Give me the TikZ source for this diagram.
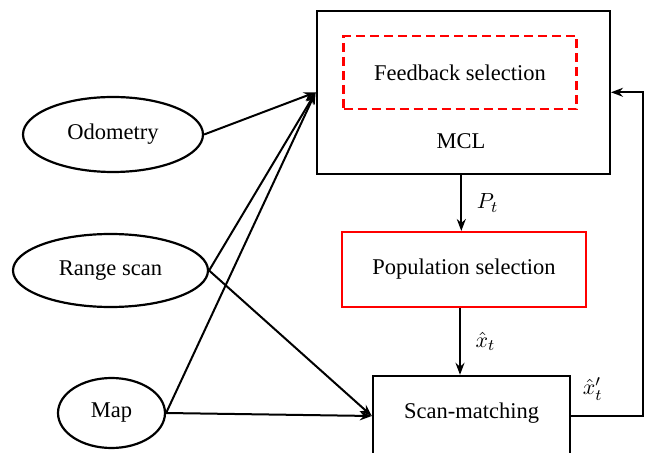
\documentclass[tikz,border=0pt]{standalone}
\usepackage{fontspec}
\setmainfont{Liberation Serif}
\newfontfamily\diagfont{Liberation Serif}
\usetikzlibrary{shapes.geometric,arrows.meta,calc}
\tikzset{
  lbl/.style={font=\diagfont\fontsize{11.25}{13.5}\selectfont},
  mlbl/.style={font=\fontsize{11.25}{13.5}\selectfont},
  blk/.style={draw, line width=1.2pt, inner sep=0pt, lbl},
  src/.style={draw, ellipse, line width=1.1pt, inner sep=0pt, lbl},
  conn/.style={line width=1pt, -{Stealth[length=6pt,width=4.5pt,inset=2pt]}}
}
\begin{document}
\begin{tikzpicture}[x=0.5pt,y=-0.5pt]
\useasboundingbox (0,0) rectangle (646,453);
\clip (0,0) rectangle (646,453);
% blocks
\node[blk, minimum width=146.5pt, minimum height=81.5pt] (MCL) at (463.3,92.3) {};
\node[draw=red, dashed, dash pattern=on 4.5pt off 2.5pt, line width=1.1pt, inner sep=0pt,
      minimum width=116.5pt, minimum height=36.5pt, lbl] (FB) at (460,72.5) {Feedback selection};
\node[lbl] (MCLt) at (461,141) {MCL};
\node[blk, draw=red, line width=1pt, minimum width=122pt, minimum height=37.5pt] (Pop) at (464,269.5) {Population selection};
\node[blk, minimum width=98.5pt, minimum height=40pt, text depth=5.5pt] (Scan) at (471.5,416) {Scan-matching};
% sources
\node[src, minimum width=90pt, minimum height=37.5pt] (Odo) at (113,134.5) {Odometry};
\node[src, minimum width=97.5pt, minimum height=36.5pt] (Rng) at (110.5,270.5) {Range scan};
\node[src, minimum width=53.5pt, minimum height=35pt] (Map) at (111.5,413) {Map};
% connectors
\draw[conn] (Odo.east) -- (MCL.west);
\draw[conn] (Rng.east) -- (MCL.west);
\draw[conn] (Map.east) -- (MCL.west);
\draw[conn] (Rng.east) -- (Scan.west);
\draw[conn] (Map.east) -- (Scan.west);
\coordinate (a1) at ($(MCL.south)+(-2,0)$);
\coordinate (a2) at ($(Pop.south)+(-4,0)$);
\draw[conn] (a1) -- node[mlbl, right=4pt] (Pt) {$P_t$} (a1 |- Pop.north);
\draw[conn] (a2) -- node[mlbl, right=4pt] (xt) {$\hat{x}_t$} (a2 |- Scan.north);
\coordinate (fbc) at (643,0);
\draw[conn] (Scan.east) -- node[mlbl, above=4pt, pos=0.3] (xtp) {$\hat{x}'_t$} (Scan.east -| fbc) -- (MCL.east -| fbc) -- (MCL.east);
\end{tikzpicture}
\end{document}
